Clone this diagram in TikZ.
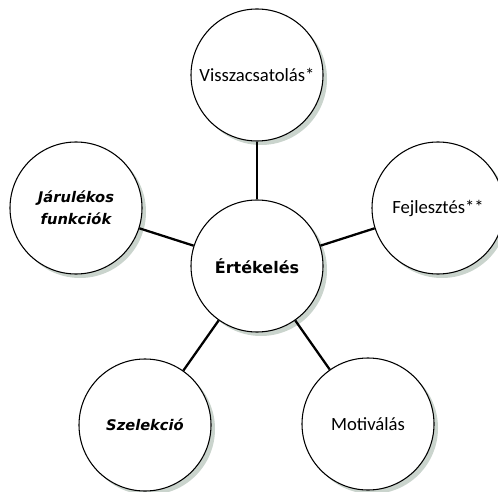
\documentclass[tikz,border=0pt]{standalone}
\usepackage{fontspec}
\setmainfont{Carlito}
\newfontfamily\kiemelt{DejaVu Sans}
\usetikzlibrary{shadows}
\definecolor{shadowgreen}{RGB}{202,212,205}

\tikzset{
  kor/.style={circle, draw=black, line width=0.8pt, fill=white, minimum size=99pt, inner sep=0pt,
    align=center, font=\fontsize{14}{16.5}\selectfont,
    general shadow={fill=shadowgreen, shadow xshift=3pt, shadow yshift=-3pt}},
  vastag/.style={font=\kiemelt\bfseries\fontsize{12}{16.5}\selectfont},
  dolt/.style={font=\kiemelt\bfseries\itshape\fontsize{11}{16.5}\selectfont},
  vonal/.style={line width=1.7pt}
}

\begin{document}
\begin{tikzpicture}[x=0.75pt,y=-0.75pt]
\useasboundingbox (0,0) rectangle (498,491);     %画布大小
\node[kor,vastag] (ertekeles) at (257,266) {Értékelés};       %中心的圆
\node[kor] (visszacs) at (257,75) {Visszacsatolás*};       %上方的圆
\node[kor] (fejl) at (438,208) {Fejlesztés**};       %右边的圆
\node[kor,dolt] (jarulek) at (76,208) {Járulékos\\funkciók};       %左边的圆
\node[kor,dolt] (szelekcio) at (145,425) {Szelekció};       %左下的圆
\node[kor] (motiv) at (368,424) {Motiválás};       %右下的圆
\draw[vonal] (ertekeles) -- (visszacs);       %连线
\draw[vonal] (ertekeles) -- (fejl);
\draw[vonal] (ertekeles) -- (jarulek);
\draw[vonal] (ertekeles) -- (szelekcio);
\draw[vonal] (ertekeles) -- (motiv);
\end{tikzpicture}
\end{document}
